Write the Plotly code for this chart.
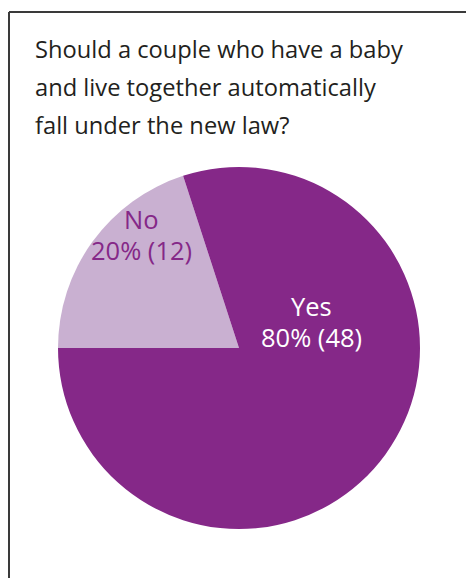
import plotly.graph_objects as go

W, H = 466, 578

title_lines = ["Should a couple who have a baby",
               "and live together automatically",
               "fall under the new law?"]
labels = ["No", "Yes"]
counts = [12, 48]
colors = ["#c9b0d1", "#852888"]
label_colors = ["#852888", "#ffffff"]
# label centres (px) for each slice
label_pos = [(141, 234), (311, 321)]

total = sum(counts)

fig = go.Figure()
fig.add_trace(go.Pie(
    labels=labels, values=counts, sort=False, direction="clockwise",
    rotation=-90, marker=dict(colors=colors, line=dict(width=0)),
    textinfo="none", hoverinfo="label+value+percent", showlegend=False,
    domain=dict(x=[58 / W, 420 / W], y=[1 - 529 / H, 1 - 167 / H]),
))

FONT = "Open Sans"
ann = []
for i, line in enumerate(title_lines):
    ann.append(dict(text=line, x=33 / W, y=1 - (49 + 38 * i) / H, xref="paper", yref="paper",
                    xanchor="left", yanchor="middle", showarrow=False,
                    font=dict(family=FONT, size=23.7, color="#231f20")))
for lab, c, col, (px, py) in zip(labels, counts, label_colors, label_pos):
    pct = round(100 * c / total)
    for j, t in enumerate([lab, f"{pct}% ({c})"]):
        ann.append(dict(text=t, x=px / W, y=1 - (py - 15 + 31 * j) / H, xref="paper", yref="paper",
                        xanchor="center", yanchor="middle", showarrow=False,
                        font=dict(family=FONT, size=25.5, color=col)))

fig.update_layout(
    width=W, height=H, margin=dict(l=0, r=0, t=0, b=0),
    paper_bgcolor="white", plot_bgcolor="white",
    annotations=ann,
    shapes=[
        dict(type="line", xref="paper", yref="paper", x0=9 / W, x1=1, y0=1 - 12 / H, y1=1 - 12 / H,
             line=dict(color="#3a3a3a", width=2)),
        dict(type="line", xref="paper", yref="paper", x0=9 / W, x1=9 / W, y0=1 - 12 / H, y1=0,
             line=dict(color="#3a3a3a", width=2)),
    ],
)
fig.write_html("out.html")
